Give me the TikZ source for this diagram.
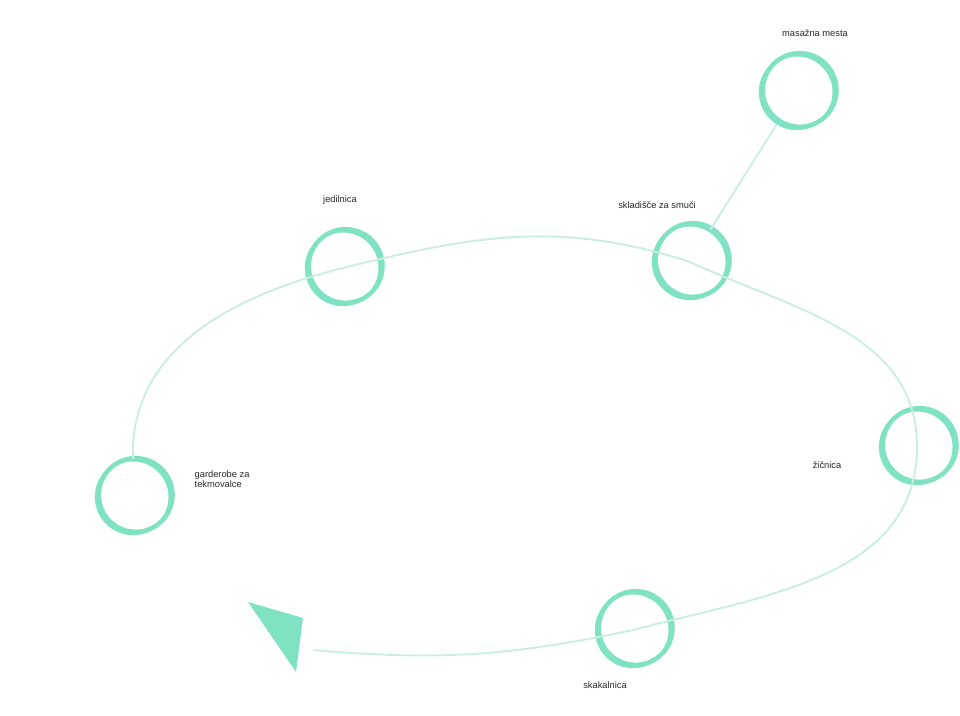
\documentclass[tikz,border=0pt]{standalone}
\usepackage{fontspec}
\setsansfont{Liberation Sans}
\definecolor{mint}{HTML}{7FE2C2}
\definecolor{trail}{HTML}{C9EEE1}
\tikzset{
    spot/.style={circle, draw=mint, line width=2pt, minimum size=1.95cm, inner sep=0pt,
        postaction={draw=mint, line width=3.4pt, transform canvas={shift={(2pt,1.5pt)}}}},
    tag/.style={font=\sffamily\scriptsize, text=black!85},
    route/.style={draw=trail, line width=1.4pt}
}
\begin{document}
\begin{tikzpicture}[x=0.02646cm, y=-0.02646cm]
    \useasboundingbox (0, 0) rectangle (960, 715);

    % Places
    \node[spot] (masaza) at (797, 92) {};
    \node[spot] (sklad) at (690, 262) {};
    \node[spot] (jedil) at (343, 268) {};
    \node[spot] (garder) at (133, 497) {};
    \node[spot] (zicna) at (917, 447) {};
    \node[spot] (skak) at (633, 630) {};

    % Route
    \coordinate (end) at (313, 650);
    \draw[route] (skak.center) to[out=15, in=-90] (zicna.center);
    \draw[route] (zicna.center) to[out=90, in=-25] (sklad.center);
    \draw[route] (sklad.center) to[out=162, in=14] (jedil.center);
    \draw[route] (jedil.center) to[out=194, in=92] (garder.north);
    \draw[route] (skak.center) to[out=192, in=-5] (end);
    \draw[route] (masaza) -- (sklad);

    % Arrow head
    \fill[mint] (248, 602) -- (303, 618) -- (296, 672) -- cycle;

    % Labels
    \node[tag] (lmasaza) at (815, 33) {masažna mesta};
    \node[tag] (lsklad) at (657, 205) {skladišče za smuči};
    \node[tag] (ljedil) at (340, 200) {jedilnica};
    \node[tag, anchor=west, align=left] (lgarder) at (190, 479) {garderobe za\\tekmovalce};
    \node[tag] (lzicna) at (827, 465) {žičnica};
    \node[tag] (lskak) at (605, 685) {skakalnica};
\end{tikzpicture}
\end{document}
